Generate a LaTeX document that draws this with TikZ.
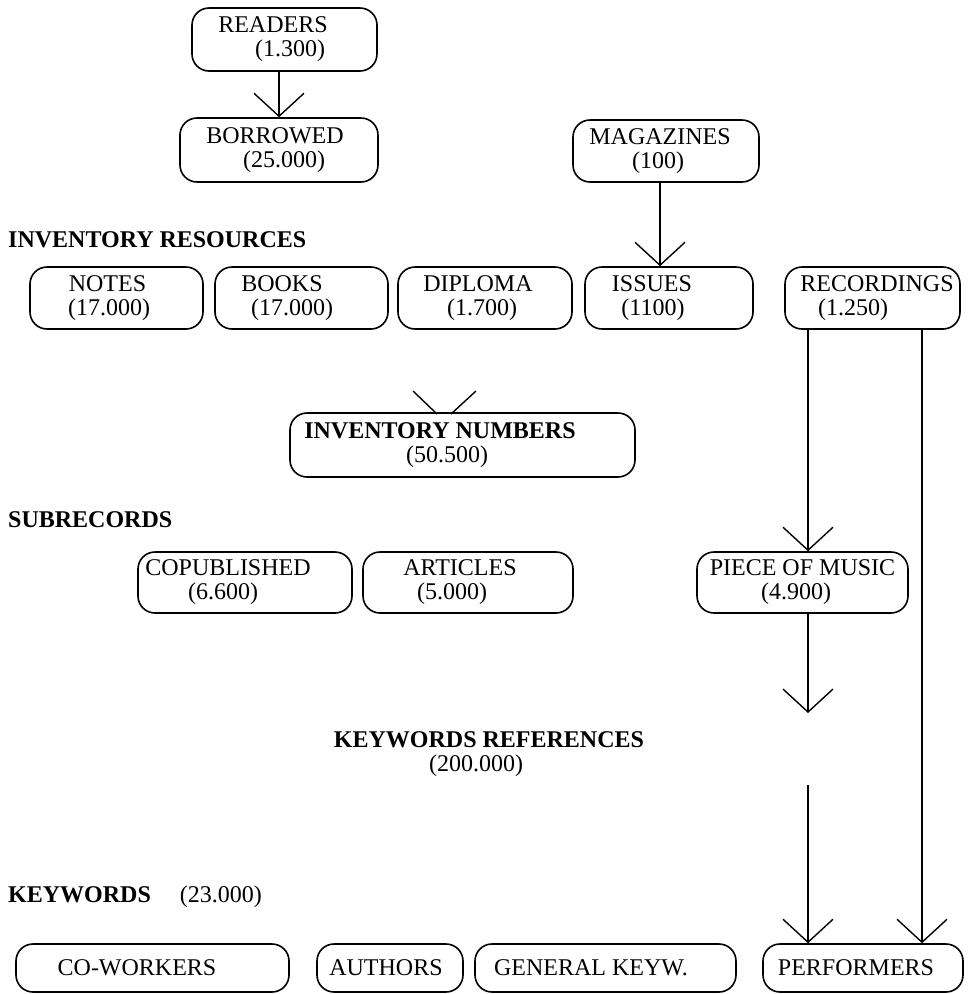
\documentclass[tikz,border=0pt]{standalone}
\usepackage{fontspec}
\setmainfont{Liberation Serif}
\usetikzlibrary{arrows.meta,calc}
\tikzset{
  box/.style={draw, line width=1.6pt, rounded corners=17pt, inner sep=0pt, align=center,
    font=\fontsize{24}{24}\selectfont},
  conn/.style={line width=1.4pt, -{Straight Barb[length=23pt,width=50pt]}},
  arm/.style={line width=1.4pt},
  lab/.style={inner sep=0pt, anchor=west, font=\fontsize{24}{24}\selectfont\bfseries},
}
\begin{document}
\begin{tikzpicture}[x=1pt,y=-1pt]
\useasboundingbox (0,0) rectangle (969,994);

% top
\node[box, minimum width=185pt, minimum height=63pt] (readers) at (284.5,39.5)
  {READERS\hspace*{23pt}\\\hspace*{11pt}(1.300)};
\node[box, minimum width=198pt, minimum height=64pt] (borrowed) at (279,150)
  {BORROWED\hspace*{8pt}\\\hspace*{10pt}(25.000)};
\node[box, minimum width=186pt, minimum height=62pt] (magazines) at (666,151)
  {MAGAZINES\hspace*{12pt}\\(100)\hspace*{16pt}};

\node[lab] (invres) at (8,240) {INVENTORY RESOURCES};

% inventory resources row
\node[box, minimum width=173pt, minimum height=62pt] (notes) at (116.5,298)
  {NOTES\hspace*{18pt}\\(17.000)\hspace*{15pt}};
\node[box, minimum width=173pt, minimum height=62pt] (books) at (301.5,298)
  {BOOKS\hspace*{39pt}\\(17.000)\hspace*{19pt}};
\node[box, minimum width=174pt, minimum height=62pt] (diploma) at (485,298)
  {DIPLOMA\hspace*{14pt}\\(1.700)\hspace*{6pt}};
\node[box, minimum width=168pt, minimum height=62pt] (issues) at (669,298)
  {ISSUES\hspace*{34pt}\\(1100)\hspace*{32pt}};
\node[box, minimum width=175pt, minimum height=62pt] (recordings) at (872.5,298)
  {\hspace*{9pt}RECORDINGS\\(1.250)\hspace*{39pt}};

% inventory numbers
\node[box, minimum width=345pt, minimum height=64pt] (invnum) at (462.5,445)
  {\textbf{INVENTORY NUMBERS}\hspace*{45pt}\\(50.500)\hspace*{31pt}};

\node[lab] (subrec) at (8,520) {SUBRECORDS};

% subrecords row
\node[box, minimum width=214pt, minimum height=61pt] (copub) at (245,582.5)
  {COPUBLISHED\hspace*{34pt}\\(6.600)\hspace*{44pt}};
\node[box, minimum width=210pt, minimum height=61pt] (articles) at (468,582.5)
  {ARTICLES\hspace*{16pt}\\(5.000)\hspace*{32pt}};
\node[box, minimum width=211pt, minimum height=61pt] (piece) at (802.5,582.5)
  {PIECE OF MUSIC\\(4.900)\hspace*{13pt}};

% keywords references
\node[inner sep=0pt, align=center, font=\fontsize{24}{24}\selectfont] (kwref) at (489,754)
  {\textbf{KEYWORDS REFERENCES}\\(200.000)\hspace*{26pt}};

\node[lab] (keywords) at (8,897) {KEYWORDS\hspace*{29pt}\mdseries(23.000)};

% bottom row
\node[box, minimum width=273pt, minimum height=48pt] (coworkers) at (152.5,968)
  {\raisebox{-4pt}{CO-WORKERS}\hspace*{31pt}};
\node[box, minimum width=146pt, minimum height=48pt] (authors) at (390,968)
  {\raisebox{-4pt}{AUTHORS}\hspace*{8pt}};
\node[box, minimum width=261pt, minimum height=48pt] (general) at (605.5,968)
  {\raisebox{-4pt}{GENERAL KEYW.}\hspace*{29pt}};
\node[box, minimum width=200pt, minimum height=48pt] (performers) at (863,968)
  {\raisebox{-4pt}{PERFORMERS}\hspace*{14pt}};

% helper coordinates
\coordinate (colA) at (808,0);
\coordinate (colB) at (922,0);
\coordinate (kwA) at (808,713);
\coordinate (kwB) at (808,785);
\coordinate (magcol) at (660,0);
\coordinate (invtip) at (444,414);

% connectors
\draw[conn] (readers.south -| borrowed.north) -- (borrowed.north);
\draw[conn] (magazines.south -| magcol) -- (issues.north -| magcol);
\draw[arm] (invtip) ++(-7,0) -- ++(-24,-23);
\draw[arm] (invtip) ++(7,0) -- ++(25,-23);
\draw[conn] (recordings.south -| colA) -- (piece.north -| colA);
\draw[conn] (recordings.south -| colB) -- (performers.north -| colB);
\draw[conn] (piece.south -| colA) -- (kwA);
\draw[conn] (kwB) -- (performers.north -| colA);
\end{tikzpicture}
\end{document}
